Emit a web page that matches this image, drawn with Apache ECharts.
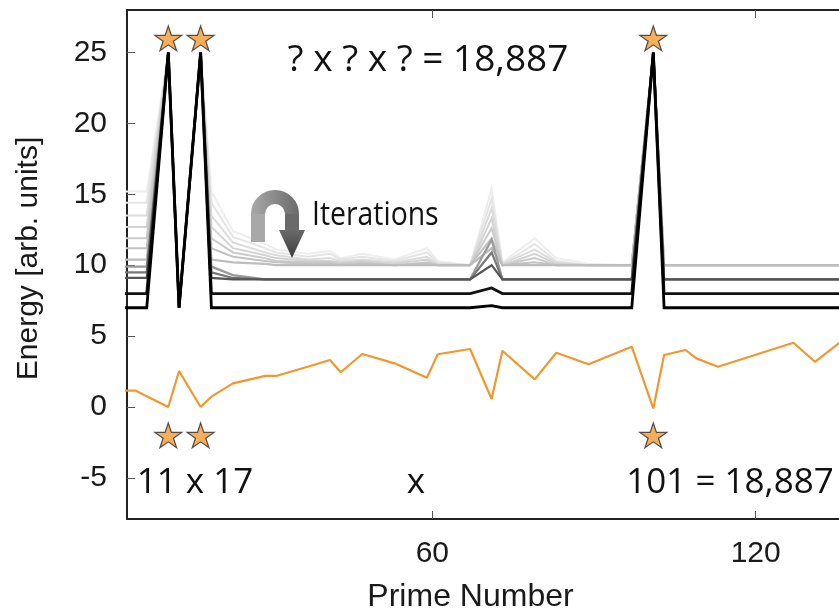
<!DOCTYPE html>
<html>
<head>
<meta charset="utf-8">
<title>Prime factor energy</title>
<script src="https://cdn.jsdelivr.net/npm/echarts@6/dist/echarts.min.js"></script>
<style>
    html, body { margin: 0; padding: 0; background: #fff; }
    #main { width: 839px; height: 609px; }
</style>
</head>
<body>
<div id="main"></div>
<script>
// x positions (primes)
var primes = [2, 3, 5, 7, 11, 13, 17, 19, 23, 29, 31, 37, 41, 43, 47, 53, 59, 61, 67, 71,
              73, 79, 83, 89, 97, 101, 103, 107, 109, 113, 127, 131, 137];

// orange curve
var optimizerEnergy = [1.15, 1.15, 1.15, 0.75, 0, 2.54, 0, 0.73, 1.67, 2.19, 2.19, 2.86, 3.31, 2.45, 3.74, 3.08, 2.07, 3.72, 4.09, 0.56,
                       3.97, 1.95, 3.83, 3.01, 4.25, -0.1, 3.67, 4.02, 3.43, 2.84, 4.53, 3.19, 4.95];

// energy landscapes, first (faint) to last (black) iteration
var iter1 = [15.2, 15.2, 15.2, 15.2, 25, 7, 25, 15.2, 12.4, 11.5, 11.1, 10.8, 11.0, 10.5, 10.8, 10.4, 11.2, 10.3, 10, 15.4,
             10.2, 11.9, 10.5, 10.1, 10, 25, 10, 10, 10, 10, 10, 10, 10];
var iter2 = [14.4, 14.4, 14.4, 14.4, 25, 7, 25, 14.4, 12.0, 11.2, 10.9, 10.6, 10.8, 10.4, 10.6, 10.3, 10.9, 10.2, 10, 14.7,
             10.1, 11.5, 10.3, 10, 10, 25, 10, 10, 10, 10, 10, 10, 10];
var iter3 = [13.5, 13.5, 13.5, 13.5, 25, 7, 25, 13.5, 11.6, 10.9, 10.7, 10.4, 10.5, 10.3, 10.4, 10.2, 10.6, 10.1, 10, 14.0,
             10.1, 11.1, 10.2, 10, 10, 25, 10, 10, 10, 10, 10, 10, 10];
var iter4 = [12.7, 12.7, 12.7, 12.7, 25, 7, 25, 12.7, 11.2, 10.7, 10.5, 10.3, 10.3, 10.2, 10.3, 10.1, 10.4, 10, 10, 13.3,
             10, 10.8, 10.1, 10, 10, 25, 10, 10, 10, 10, 10, 10, 10];
var iter5 = [11.9, 11.9, 11.9, 11.9, 25, 7, 25, 11.9, 10.9, 10.5, 10.3, 10.2, 10.2, 10.1, 10.2, 10, 10.2, 10, 10, 12.6,
             10, 10.5, 10, 10, 10, 25, 10, 10, 10, 10, 10, 10, 10];
var iter6 = [11.2, 11.2, 11.2, 11.2, 25, 7, 25, 11.2, 10.6, 10.3, 10.2, 10.1, 10.1, 10, 10.1, 10, 10.1, 10, 10, 11.9,
             10, 10.2, 10, 10, 10, 25, 10, 10, 10, 10, 10, 10, 10];
var iter7 = [10.4, 10.4, 10.4, 10.4, 25, 7, 25, 10.4, 10.2, 10.1, 10, 10, 10, 10, 10, 10, 10, 10, 10, 11.2,
             10, 10, 10, 10, 10, 25, 10, 10, 10, 10, 10, 10, 10];
var iter8 = [9.9, 9.9, 9.9, 9.9, 25, 7, 25, 9.9, 9.3, 9, 9, 9, 9, 9, 9, 9, 9, 9, 9, 11.8,
             9, 9, 9, 9, 9, 25, 9, 9, 9, 9, 9, 9, 9];
var iter9 = [9.5, 9.5, 9.5, 9.5, 25, 7, 25, 9.5, 9.1, 9, 9, 9, 9, 9, 9, 9, 9, 9, 9, 10.9,
             9, 9, 9, 9, 9, 25, 9, 9, 9, 9, 9, 9, 9];
var iter10 = [9.1, 9.1, 9.1, 9.1, 25, 7, 25, 9.1, 9, 9, 9, 9, 9, 9, 9, 9, 9, 9, 9, 10.0,
              9, 9, 9, 9, 9, 25, 9, 9, 9, 9, 9, 9, 9];
var iter11 = [8, 8, 8, 8, 25, 7, 25, 8, 8, 8, 8, 8, 8, 8, 8, 8, 8, 8, 8, 8.4,
              8, 8, 8, 8, 8, 25, 8, 8, 8, 8, 8, 8, 8];
var iter12 = [7, 7, 7, 7, 25, 7, 25, 7, 7, 7, 7, 7, 7, 7, 7, 7, 7, 7, 7, 7.15,
              7, 7, 7, 7, 7, 25, 7, 7, 7, 7, 7, 7, 7];

var iterations = [iter1, iter2, iter3, iter4, iter5, iter6, iter7, iter8, iter9, iter10, iter11, iter12];
var iterColors = ['#eeeeee', '#e5e5e5', '#dcdcdc', '#d3d3d3', '#cacaca', '#c2c2c2', '#bdbdbd',
                  '#9a9a9a', '#777777', '#555555', '#111111', '#000000'];
var iterWidths = [2, 2, 2, 2, 2, 2, 2.2, 2.2, 2.2, 2.2, 2.8, 2.8];

// stars marking the factors 11 x 17 x 101
var factorPrimes = [11, 17, 101];
var starAbove = 26;
var starBelow = -2;

var yTicks = [-5, 0, 5, 10, 15, 20, 25];
var xTicks = [60, 120];

var starPath = 'path://M50,0 L61.2,34.5 L97.6,34.5 L68.2,55.9 L79.4,90.5 L50,69.1 L20.6,90.5 L31.8,55.9 L2.4,34.5 L38.8,34.5 Z';

function pairs(vals) {
    return primes.map(function (p, i) { return [p, vals[i]]; });
}

var chart = echarts.init(document.getElementById('main'));

var series = iterations.map(function (vals, i) {
    return {
        type: 'line',
        data: pairs(vals),
        symbol: 'none',
        silent: true,
        lineStyle: { color: iterColors[i], width: iterWidths[i], join: 'miter' },
        z: 2 + i * 0.01
    };
});

series.push({
    type: 'line',
    data: pairs(optimizerEnergy),
    symbol: 'none',
    lineStyle: { color: '#f0982f', width: 2.2 },
    z: 3
});

var starData = [];
factorPrimes.forEach(function (p) { starData.push([p, starAbove]); });
factorPrimes.forEach(function (p) { starData.push([p, starBelow]); });

series.push({
    type: 'scatter',
    data: starData,
    symbol: starPath,
    symbolSize: [27, 26],
    symbolKeepAspect: true,
    itemStyle: { color: '#f29a33', borderColor: '#2a2a2a', borderWidth: 1.2 },
    z: 5
});

var annFont = '"Open Sans", "DejaVu Sans", sans-serif';

var option = {
    animation: false,
    backgroundColor: '#ffffff',
    grid: { left: 127, right: -11, top: 10, bottom: 90, containLabel: false, outerBoundsMode: 'none' },
    xAxis: [{
        type: 'value',
        min: 3.34,
        max: 137.5,
        name: 'Prime Number',
        nameLocation: 'middle',
        nameGap: 62,
        nameTextStyle: { fontFamily: 'Liberation Sans', fontSize: 32, color: '#1a1a1a', padding: [0, 36, 0, 0] },
        axisLine: { show: true, onZero: false, lineStyle: { color: '#222', width: 2 } },
        axisTick: { show: true, inside: true, length: 8, customValues: xTicks, lineStyle: { color: '#555', width: 1 } },
        axisLabel: { customValues: xTicks, margin: 20, fontFamily: 'Liberation Sans', fontSize: 30, color: '#1a1a1a' },
        splitLine: { show: false }
    }, {
        type: 'value',
        position: 'top',
        min: 3.34,
        max: 137.5,
        axisLine: { show: true, onZero: false, lineStyle: { color: '#222', width: 2 } },
        axisTick: { show: true, inside: true, length: 8, customValues: xTicks, lineStyle: { color: '#555', width: 1 } },
        axisLabel: { show: false },
        splitLine: { show: false }
    }],
    yAxis: {
        type: 'value',
        min: -7.9,
        max: 28,
        name: 'Energy [arb. units]',
        nameLocation: 'middle',
        nameGap: 83,
        nameTextStyle: { fontFamily: 'Liberation Sans', fontSize: 30, color: '#1a1a1a', padding: [0, 0, 0, 12] },
        axisLine: { show: true, onZero: false, lineStyle: { color: '#222', width: 2 } },
        axisTick: { show: true, inside: true, length: 8, customValues: yTicks, lineStyle: { color: '#555', width: 1 } },
        axisLabel: { customValues: yTicks, margin: 20, fontFamily: 'Liberation Sans', fontSize: 30, color: '#1a1a1a' },
        splitLine: { show: false }
    },
    series: series,
    graphic: [
        { type: 'text', z: 10, style: { x: 428, y: 60, text: '? x ? x ? = 18,887', font: '37px ' + annFont, fill: '#111', align: 'center', verticalAlign: 'middle' } },
        { type: 'text', z: 10, style: { x: 195, y: 483, text: '11 x 17', font: '35px ' + annFont, fill: '#111', align: 'center', verticalAlign: 'middle' } },
        { type: 'text', z: 10, style: { x: 416, y: 483, text: 'x', font: '35px ' + annFont, fill: '#111', align: 'center', verticalAlign: 'middle' } },
        { type: 'text', z: 10, style: { x: 730, y: 483, text: '101 = 18,887', font: '35px ' + annFont, fill: '#111', align: 'center', verticalAlign: 'middle' } },
        { type: 'text', z: 10, x: 312, y: 216, scaleX: 0.86, style: { x: 0, y: 0, text: 'Iterations', font: '33px ' + annFont, fill: '#111', align: 'left', verticalAlign: 'middle' } },
        // curved "iterations" arrow
        { type: 'line', z: 9, shape: { x1: 258, y1: 214, x2: 258, y2: 242 }, style: { stroke: '#a8a8a8', lineWidth: 14 } },
        {
            type: 'arc', z: 9,
            shape: { cx: 275, cy: 214, r: 17, startAngle: Math.PI, endAngle: Math.PI * 2 },
            style: {
                stroke: new echarts.graphic.LinearGradient(0, 0, 1, 0, [
                    { offset: 0, color: '#a8a8a8' }, { offset: 0.5, color: '#8a8a8a' }, { offset: 1, color: '#6a6a6a' }
                ]),
                lineWidth: 14, fill: 'none'
            }
        },
        { type: 'line', z: 9, shape: { x1: 292, y1: 214, x2: 292, y2: 232 }, style: { stroke: '#6a6a6a', lineWidth: 14 } },
        {
            type: 'polygon', z: 9,
            shape: { points: [[279, 230], [305, 230], [292, 258]] },
            style: {
                fill: new echarts.graphic.LinearGradient(0, 0, 0, 1, [
                    { offset: 0, color: '#6a6a6a' }, { offset: 1, color: '#3c3c3c' }
                ])
            }
        }
    ]
};

chart.setOption(option);
</script>
</body>
</html>
